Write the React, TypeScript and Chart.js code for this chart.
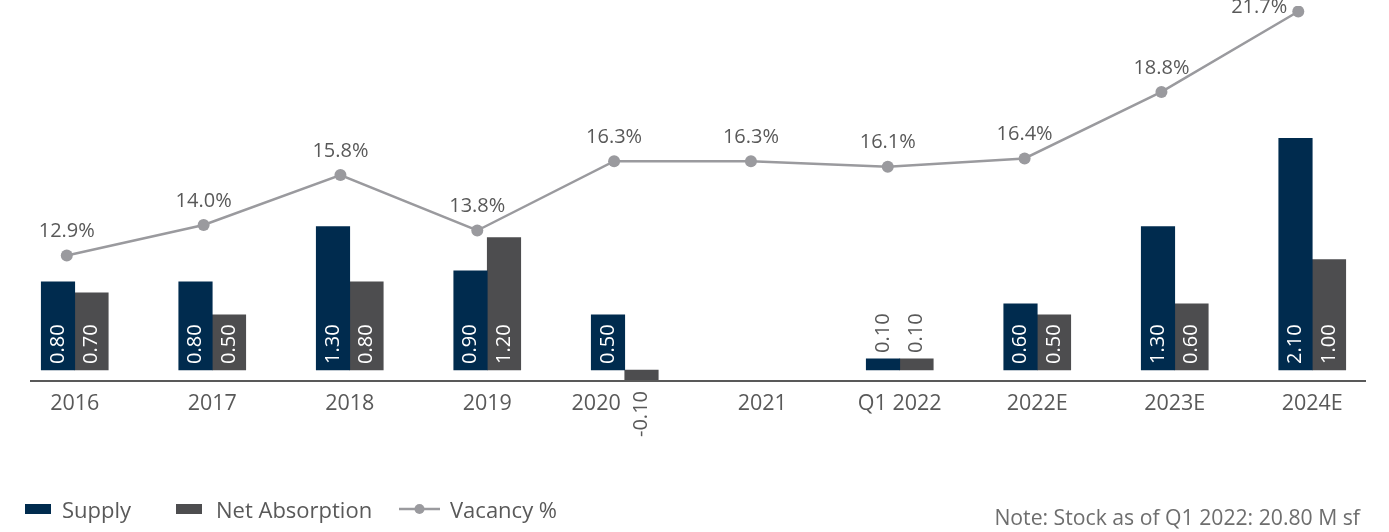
import React, { useEffect, useRef } from 'react';
import { Chart, registerables } from 'chart.js';

Chart.register(...registerables);

const categories = ['2016', '2017', '2018', '2019', '2020', '2021', 'Q1 2022', '2022E', '2023E', '2024E'];
const supply: (number | null)[] = [0.8, 0.8, 1.3, 0.9, 0.5, null, 0.1, 0.6, 1.3, 2.1];
const netAbsorption: (number | null)[] = [0.7, 0.5, 0.8, 1.2, -0.1, null, 0.1, 0.5, 0.6, 1.0];
const vacancy: number[] = [12.9, 14.0, 15.8, 13.8, 16.3, 16.3, 16.1, 16.4, 18.8, 21.7];

const FONT = '"Open Sans", "Noto Sans", sans-serif';
const TEXT = '#595959';
const NAVY = '#002b4e';
const DARKGRAY = '#4d4d4f';
const LINEGRAY = '#9a9a9e';

const labelPlugin = {
  id: 'valueLabels',
  afterDatasetsDraw(chart: any) {
    const ctx = chart.ctx as CanvasRenderingContext2D;
    ctx.save();
    ctx.font = `20px ${FONT}`;
    chart.data.datasets.forEach((ds: any, di: number) => {
      const meta = chart.getDatasetMeta(di);
      if (meta.hidden) return;
      if (meta.type === 'bar') {
        meta.data.forEach((el: any, i: number) => {
          const v = ds.data[i];
          if (v == null) return;
          const txt = v.toFixed(2);
          const w = ctx.measureText(txt).width;
          const { x, y, base } = el.getProps(['x', 'y', 'base'], true);
          ctx.save();
          ctx.textBaseline = 'middle';
          if (v < 0) {
            ctx.translate(x, y + 10);
            ctx.rotate(-Math.PI / 2);
            ctx.textAlign = 'right';
            ctx.fillStyle = TEXT;
          } else if (base - y > w + 12) {
            ctx.translate(x, base - 6);
            ctx.rotate(-Math.PI / 2);
            ctx.textAlign = 'left';
            ctx.fillStyle = '#ffffff';
          } else {
            ctx.translate(x, y - 6);
            ctx.rotate(-Math.PI / 2);
            ctx.textAlign = 'left';
            ctx.fillStyle = TEXT;
          }
          ctx.fillText(txt, 0, 0);
          ctx.restore();
        });
      } else if (meta.type === 'line') {
        meta.data.forEach((el: any, i: number) => {
          const v = vacancy[i];
          if (v == null) return;
          const txt = v.toFixed(1) + '%';
          const { x, y } = el.getProps(['x', 'y'], true);
          ctx.fillStyle = TEXT;
          ctx.textBaseline = 'middle';
          if (y - 34 < 0) {
            ctx.textAlign = 'right';
            ctx.fillText(txt, x - 11, y - 4);
          } else {
            ctx.textAlign = 'center';
            ctx.fillText(txt, x, y - 24);
          }
        });
      }
    });
    ctx.restore();
  },
};

const axisPlugin = {
  id: 'categoryAxis',
  afterDatasetsDraw(chart: any) {
    const { ctx, chartArea } = chart;
    const xs = chart.scales.x;
    ctx.save();
    ctx.strokeStyle = '#595959';
    ctx.lineWidth = 2;
    ctx.beginPath();
    ctx.moveTo(chartArea.left + 24, chartArea.bottom);
    ctx.lineTo(chartArea.right - 15, chartArea.bottom);
    ctx.stroke();

    ctx.font = `21.5px ${FONT}`;
    ctx.fillStyle = TEXT;
    ctx.textBaseline = 'middle';
    const labels: string[] = chart.data.labels;
    labels.forEach((label, i) => {
      const x = xs.getPixelForTick(i);
      const hasNegative = chart.data.datasets.some(
        (ds: any) => ds.type === 'bar' && typeof ds.data[i] === 'number' && ds.data[i] < 0
      );
      const y = chartArea.bottom + 23;
      if (hasNegative) {
        ctx.textAlign = 'right';
        ctx.fillText(label, x - 4, y);
      } else {
        ctx.textAlign = 'center';
        ctx.fillText(label, x, y);
      }
    });
    ctx.restore();
  },
};

export default function App() {
  const canvasRef = useRef<HTMLCanvasElement | null>(null);

  useEffect(() => {
    if (!canvasRef.current) return;
    const chart = new Chart(canvasRef.current, {
      type: 'bar',
      data: {
        labels: categories,
        datasets: [
          {
            type: 'line',
            label: 'Vacancy %',
            data: vacancy.map((v, i) => ({ x: i, y: v })),
            xAxisID: 'xLine',
            yAxisID: 'yLine',
            borderColor: LINEGRAY,
            backgroundColor: LINEGRAY,
            borderWidth: 2.5,
            pointRadius: 6,
            pointHoverRadius: 6,
            pointBackgroundColor: LINEGRAY,
            pointBorderWidth: 0,
            tension: 0,
            order: 0,
          } as any,
          {
            type: 'bar',
            label: 'Supply',
            data: supply,
            backgroundColor: NAVY,
            xAxisID: 'x',
            yAxisID: 'y',
            barThickness: 33.5,
            order: 1,
          },
          {
            type: 'bar',
            label: 'Net Absorption',
            data: netAbsorption,
            backgroundColor: DARKGRAY,
            xAxisID: 'x',
            yAxisID: 'y',
            barThickness: 33.5,
            order: 2,
          },
        ],
      },
      options: {
        animation: false,
        responsive: true,
        maintainAspectRatio: false,
        layout: { padding: { left: 1, right: 8, top: 4, bottom: 151 } },
        plugins: {
          legend: { display: false },
          tooltip: { enabled: false },
        },
        scales: {
          x: {
            type: 'category',
            display: false,
            offset: true,
          },
          xLine: {
            type: 'linear',
            display: false,
            offset: false,
            min: -0.4442,
            max: 9.6046,
          },
          y: {
            type: 'linear',
            display: false,
            min: -0.1,
            max: 3.3,
          },
          yLine: {
            type: 'linear',
            display: false,
            min: 8.37,
            max: 21.9,
          },
        },
      } as any,
      plugins: [axisPlugin, labelPlugin],
    });
    return () => chart.destroy();
  }, []);

  const legendText: React.CSSProperties = {
    fontFamily: FONT,
    fontSize: 22,
    color: TEXT,
    whiteSpace: 'nowrap',
  };
  const item = (left: number): React.CSSProperties => ({
    position: 'absolute',
    left,
    top: 495,
    height: 28,
    display: 'flex',
    alignItems: 'center',
  });

  return (
    <div style={{ position: 'absolute', left: 0, top: 0, width: 1389, height: 532, background: '#ffffff', overflow: 'hidden' }}>
      <canvas ref={canvasRef} />
      <div style={item(25)}>
        <span style={{ display: 'inline-block', width: 26, height: 10, background: NAVY, marginRight: 11 }} />
        <span style={legendText}>Supply</span>
      </div>
      <div style={item(176)}>
        <span style={{ display: 'inline-block', width: 26, height: 10, background: DARKGRAY, marginRight: 14 }} />
        <span style={legendText}>Net Absorption</span>
      </div>
      <div style={item(399)}>
        <svg width={41} height={12} style={{ marginRight: 10 }}>
          <line x1={0} y1={6} x2={41} y2={6} stroke={LINEGRAY} strokeWidth={2.5} />
          <circle cx={20.5} cy={6} r={5} fill={LINEGRAY} />
        </svg>
        <span style={legendText}>Vacancy %</span>
      </div>
      <div
        style={{
          position: 'absolute',
          right: 29,
          top: 503,
          fontFamily: FONT,
          fontSize: 21.2,
          color: '#6e6e6e',
          whiteSpace: 'nowrap',
          lineHeight: '28px',
        }}
      >
        Note: Stock as of Q1 2022: 20.80 M sf
      </div>
    </div>
  );
}
